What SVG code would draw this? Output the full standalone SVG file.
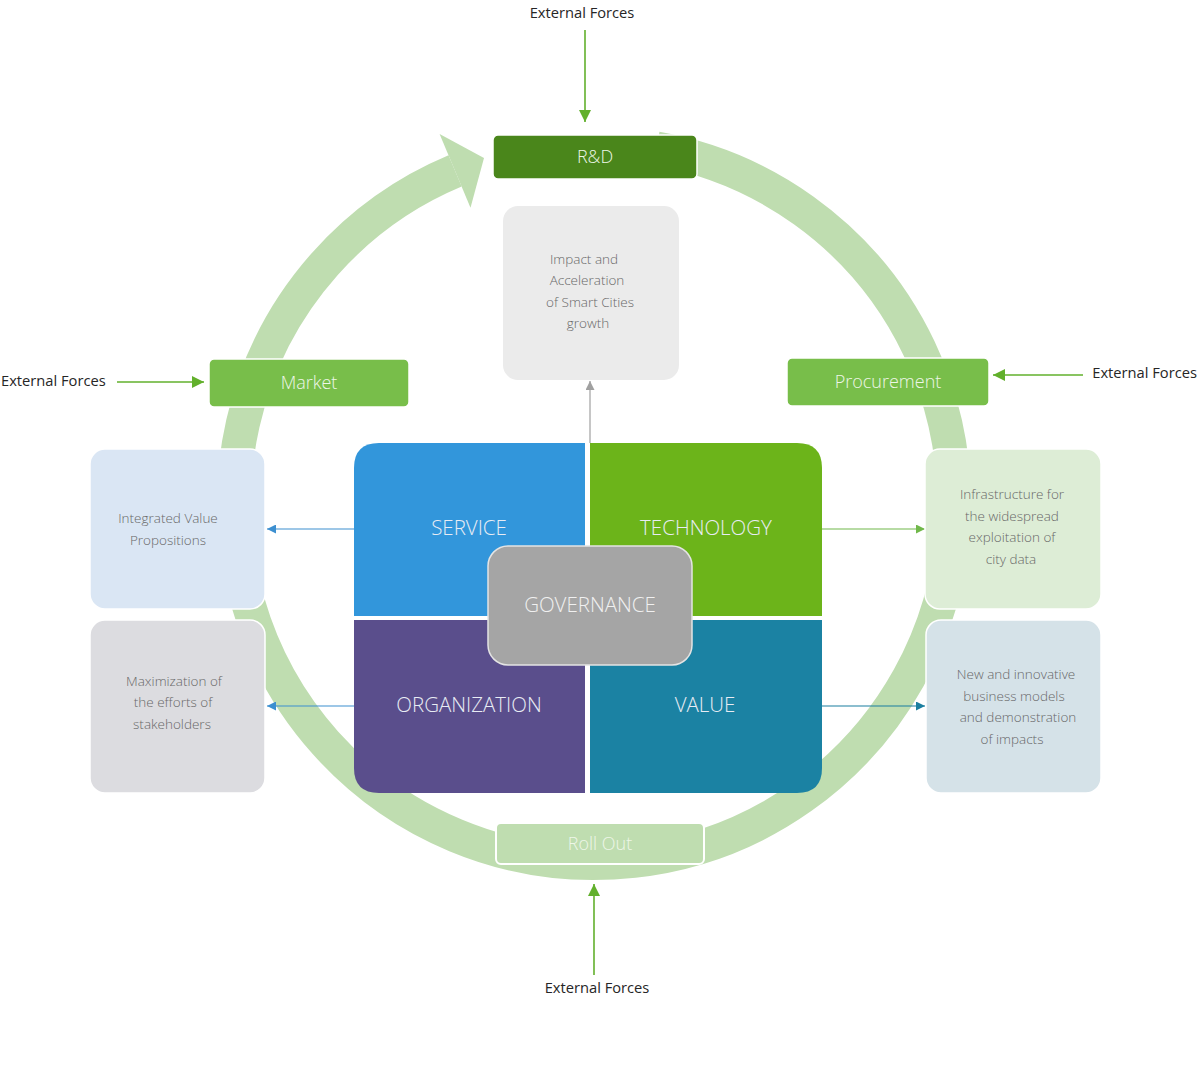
<svg xmlns="http://www.w3.org/2000/svg" width="1200" height="1077" viewBox="0 0 1200 1077">
<defs>
<style>
.ext{font-family:"Open Sans","Noto Sans","Liberation Sans",sans-serif;font-size:14.7px;fill:#262626;}
.lbl{font-family:"Open Sans","Noto Sans","Liberation Sans",sans-serif;font-size:18px;fill:#EEF6E8;text-anchor:middle;font-weight:300;}
.quad{font-family:"Open Sans","Noto Sans","Liberation Sans",sans-serif;font-size:20.5px;fill:#E8ECF4;text-anchor:middle;font-weight:300;}
.small{font-family:"Open Sans","Noto Sans","Liberation Sans",sans-serif;font-size:13.5px;fill:#686868;text-anchor:middle;font-weight:300;}
.gline{stroke:#62B02C;stroke-width:1.6;fill:none;}
</style>
<marker id="ag" viewBox="0 0 10 10" refX="10" refY="5" markerWidth="13" markerHeight="12" markerUnits="userSpaceOnUse" orient="auto"><path d="M0,0 L10,5 L0,10 z" fill="#62B02C"/></marker>
<marker id="ab" viewBox="0 0 10 10" refX="10" refY="5" markerWidth="9" markerHeight="9" markerUnits="userSpaceOnUse" orient="auto"><path d="M0,0 L10,5 L0,10 z" fill="#3C8FD0"/></marker>
<marker id="at" viewBox="0 0 10 10" refX="10" refY="5" markerWidth="9" markerHeight="9" markerUnits="userSpaceOnUse" orient="auto"><path d="M0,0 L10,5 L0,10 z" fill="#1B7FA0"/></marker>
<marker id="agr" viewBox="0 0 10 10" refX="10" refY="5" markerWidth="9" markerHeight="9" markerUnits="userSpaceOnUse" orient="auto"><path d="M0,0 L10,5 L0,10 z" fill="#A0A0A0"/></marker>
<marker id="agl" viewBox="0 0 10 10" refX="10" refY="5" markerWidth="9" markerHeight="9" markerUnits="userSpaceOnUse" orient="auto"><path d="M0,0 L10,5 L0,10 z" fill="#70B84A"/></marker>
</defs>
<rect width="1200" height="1077" fill="#FFFFFF"/>

<g id="cycle">
<path d="M 656.5 148.5 A 360 360 0 1 1 455.1 170.9" fill="none" stroke="#BFDDB0" stroke-width="34"/>
<polygon points="439.6,134 484,158 470.5,207.8" fill="#BFDDB0"/>
</g>

<g id="connectors">
<line x1="585" y1="30" x2="585" y2="122" class="gline" marker-end="url(#ag)"/>
<line x1="117" y1="382" x2="204" y2="382" class="gline" marker-end="url(#ag)"/>
<line x1="1083" y1="375" x2="993" y2="375" class="gline" marker-end="url(#ag)"/>
<line x1="594" y1="975" x2="594" y2="884" class="gline" marker-end="url(#ag)"/>
<line x1="590" y1="443" x2="590" y2="381" stroke="#A0A0A0" stroke-width="1.2" marker-end="url(#agr)"/>
<line x1="354" y1="529" x2="267" y2="529" stroke="#3C8FD0" stroke-width="1.2" marker-end="url(#ab)"/>
<line x1="354" y1="706" x2="267" y2="706" stroke="#3C8FD0" stroke-width="1.2" marker-end="url(#ab)"/>
<line x1="822" y1="529" x2="925" y2="529" stroke="#70B84A" stroke-width="1.2" marker-end="url(#agl)"/>
<line x1="822" y1="706" x2="925" y2="706" stroke="#1B7FA0" stroke-width="1.2" marker-end="url(#at)"/>
</g>

<g id="ext-top"><text class="ext" x="582" y="18" text-anchor="middle">External Forces</text></g>
<g id="ext-left"><text class="ext" x="1" y="386">External Forces</text></g>
<g id="ext-right"><text class="ext" x="1197" y="378" text-anchor="end">External Forces</text></g>
<g id="ext-bottom"><text class="ext" x="597" y="993" text-anchor="middle">External Forces</text></g>

<g id="rd">
<rect x="493" y="135" width="204" height="44" rx="5" fill="#4A861B" stroke="#FFFFFF" stroke-width="1.5"/>
<text class="lbl" x="595" y="163">R&amp;D</text>
</g>

<g id="market">
<rect x="209" y="359" width="200" height="48" rx="5" fill="#78BE4A" stroke="#FFFFFF" stroke-width="1.5"/>
<text class="lbl" x="309" y="389">Market</text>
</g>

<g id="procurement">
<rect x="787" y="358" width="202" height="48" rx="5" fill="#78BE4A" stroke="#FFFFFF" stroke-width="1.5"/>
<text class="lbl" x="888" y="388">Procurement</text>
</g>

<g id="rollout">
<rect x="496" y="823" width="208" height="41" rx="5" fill="#BFDDB0" stroke="#FFFFFF" stroke-width="2"/>
<text class="lbl" x="600" y="850" fill="#F4FAF0">Roll Out</text>
</g>

<g id="impact">
<rect x="503" y="206" width="176" height="174" rx="15" fill="#EBEBEB"/>
<text class="small" x="584" y="264">Impact and</text>
<text class="small" x="587" y="285">Acceleration</text>
<text class="small" x="590" y="307">of Smart Cities</text>
<text class="small" x="588" y="328">growth</text>
</g>

<g id="integrated">
<rect x="90" y="449" width="175" height="160" rx="15" fill="#DAE6F4" stroke="#FFFFFF" stroke-width="1.5"/>
<text class="small" x="168" y="523">Integrated Value</text>
<text class="small" x="168" y="545">Propositions</text>
</g>

<g id="maximization">
<rect x="90" y="620" width="175" height="173" rx="15" fill="#DCDCE0" stroke="#FFFFFF" stroke-width="1.5"/>
<text class="small" x="174" y="686">Maximization of</text>
<text class="small" x="173" y="707">the efforts of</text>
<text class="small" x="172" y="729">stakeholders</text>
</g>

<g id="infrastructure">
<rect x="925" y="449" width="176" height="160" rx="15" fill="#DDEDD6" stroke="#FFFFFF" stroke-width="1.5"/>
<text class="small" x="1012" y="499">Infrastructure for</text>
<text class="small" x="1012" y="521">the widespread</text>
<text class="small" x="1012" y="542">exploitation of</text>
<text class="small" x="1011" y="564">city data</text>
</g>

<g id="business">
<rect x="926" y="620" width="175" height="173" rx="15" fill="#D5E2E8" stroke="#FFFFFF" stroke-width="1.5"/>
<text class="small" x="1016" y="679">New and innovative</text>
<text class="small" x="1014" y="701">business models</text>
<text class="small" x="1018" y="722">and demonstration</text>
<text class="small" x="1012" y="744">of impacts</text>
</g>

<g id="service">
<path d="M354,616 L354,468 Q354,443 379,443 L585,443 L585,616 Z" fill="#3296DB"/>
<text class="quad" x="469" y="535">SERVICE</text>
</g>
<g id="technology">
<path d="M590,443 L797,443 Q822,443 822,468 L822,616 L590,616 Z" fill="#6CB41A"/>
<text class="quad" x="706" y="535">TECHNOLOGY</text>
</g>
<g id="organization">
<path d="M354,620 L585,620 L585,793 L379,793 Q354,793 354,768 Z" fill="#5A4E8C"/>
<text class="quad" x="469" y="712">ORGANIZATION</text>
</g>
<g id="value">
<path d="M590,620 L822,620 L822,768 Q822,793 797,793 L590,793 Z" fill="#1B82A3"/>
<text class="quad" x="705" y="712">VALUE</text>
</g>
<g id="governance">
<rect x="488" y="546" width="204" height="119" rx="20" fill="#A5A5A5" stroke="#E4E4E4" stroke-width="1.5"/>
<text class="quad" x="590" y="612" style="fill:#F0F0F0">GOVERNANCE</text>
</g>
</svg>
